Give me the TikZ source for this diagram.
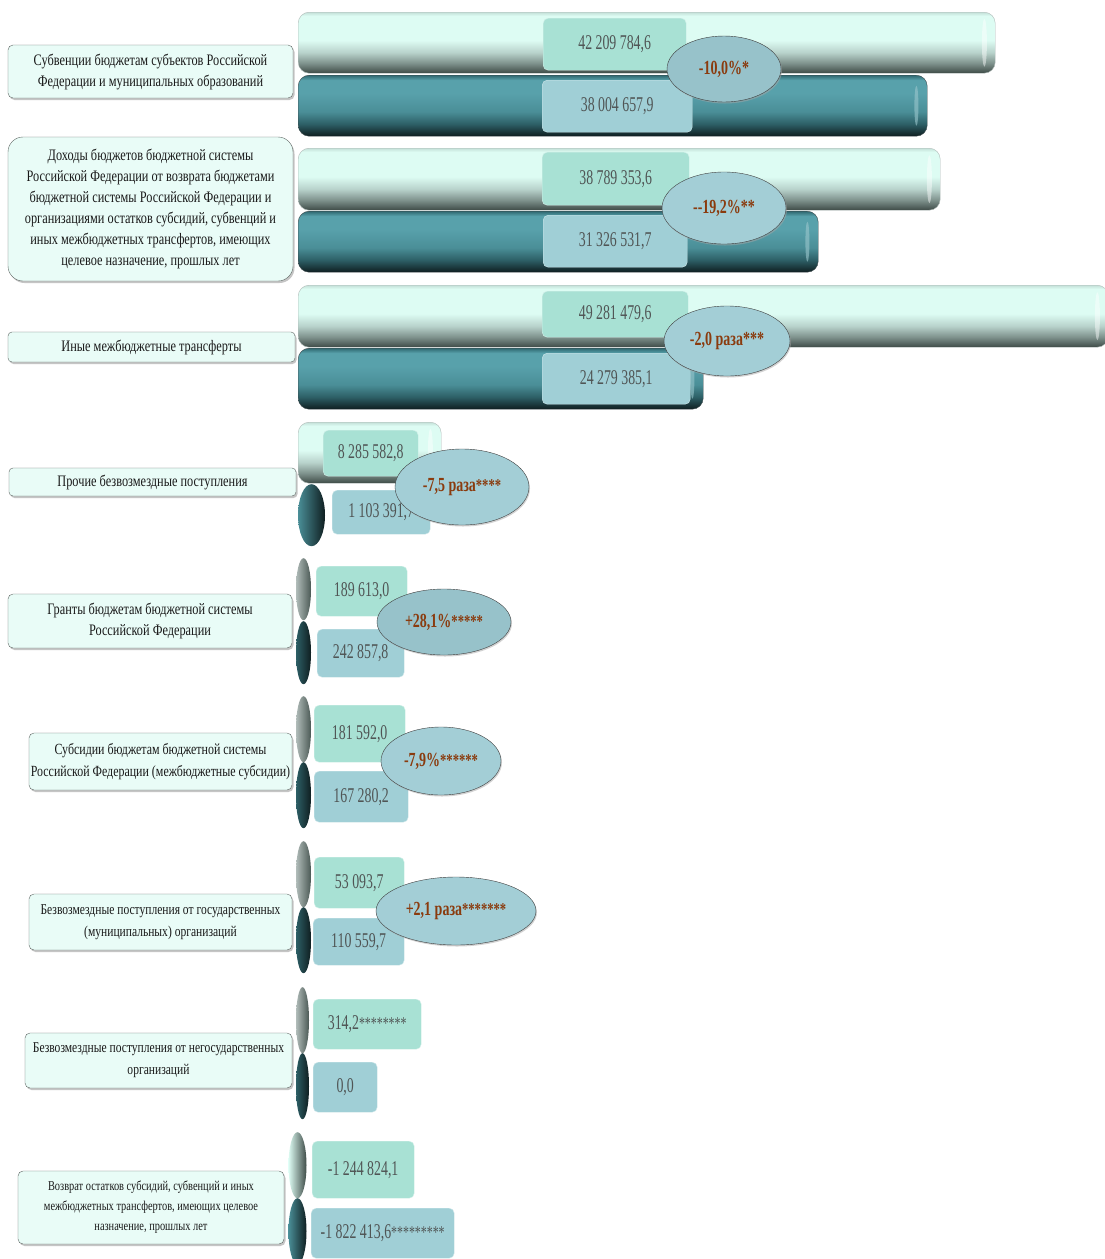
\documentclass[tikz,border=0pt]{standalone}
\usepackage{fontspec}
\setmainfont{Liberation Serif}
\newfontfamily\lblfont{Liberation Serif}[FakeStretch=0.77]
\newfontfamily\valfont{Liberation Serif}[FakeStretch=0.66]
\newfontfamily\chgfont{Liberation Serif}[FakeStretch=0.70]
\usetikzlibrary{shapes.geometric,shadows}
\definecolor{lblfill}{HTML}{E9FCF7}
\definecolor{lbledge}{HTML}{5E6663}
\definecolor{vtopfill}{HTML}{A8E1D4}
\definecolor{vbotfill}{HTML}{A0CFD6}
\definecolor{chgfill}{HTML}{A3CED6}
\definecolor{chgdark}{HTML}{97C2CA}
\definecolor{chgtext}{HTML}{8A3B0E}
\definecolor{valtext}{HTML}{505555}
\definecolor{lb1}{HTML}{3E4B47}
\definecolor{lb2}{HTML}{7D908B}
\definecolor{lb3}{HTML}{B8D2CB}
\definecolor{lb4}{HTML}{DDFCF3}
\definecolor{lb5}{HTML}{C4E0D8}
\definecolor{tb1}{HTML}{0F1E20}
\definecolor{tb2}{HTML}{2D5F66}
\definecolor{tb3}{HTML}{4A8E97}
\definecolor{tb4}{HTML}{58A1AB}
\definecolor{tb5}{HTML}{2F6870}
\pgfdeclareverticalshading{lightbar}{100bp}{color(0bp)=(lb1); color(25bp)=(lb1);
  color(33bp)=(lb2); color(42bp)=(lb3); color(52bp)=(lb4); color(72bp)=(lb4);
  color(75bp)=(lb5); color(100bp)=(lb5)}
\pgfdeclareverticalshading{tealbar}{100bp}{color(0bp)=(tb1); color(25bp)=(tb1);
  color(35bp)=(tb2); color(45bp)=(tb3); color(60bp)=(tb4); color(71bp)=(tb4);
  color(75bp)=(tb5); color(100bp)=(tb5)}
\begin{document}
\begin{tikzpicture}[x=1pt, y=-1pt,
    sz/.style 2 args={minimum width=#1, minimum height=#2},
    lbl/.style={draw=lbledge, fill=lblfill, rounded corners=5pt, align=center,
      inner sep=0pt, text=black!90, font=\lblfont\fontsize{16}{21}\selectfont,
      drop shadow={shadow xshift=1.5pt, shadow yshift=-2pt, fill=black!45}},
    val/.style={rounded corners=5pt, inner sep=0pt, anchor=north west,
      text=valtext, font=\valfont\fontsize{21}{22}\selectfont},
    vtop/.style={val, fill=vtopfill, draw=vtopfill!50!white},
    vbot/.style={val, fill=vbotfill, draw=vbotfill!50!white},
    chg/.style={ellipse, draw=black!75, fill=chgfill, inner sep=0pt, text=chgtext,
      font=\chgfont\bfseries\fontsize{20}{22}\selectfont,
      drop shadow={shadow xshift=1pt, shadow yshift=-1.5pt, fill=black!35}},
    ltbar/.style={shading=lightbar, draw=lb2!60, rounded corners=11pt,
      anchor=north west, inner sep=0pt},
    tlbar/.style={shading=tealbar, draw=tb1!80, rounded corners=11pt,
      anchor=north west, inner sep=0pt},
    ltdot/.style={ellipse, anchor=north, inner sep=0pt, left color=lb2!60,
      right color=lb1!80!lb2},
    tldot/.style={ellipse, anchor=north, inner sep=0pt, left color=tb2,
      right color=tb1}]
  \fill[white] (0,0) rectangle (1105,1259);
  \useasboundingbox (0,0) rectangle (1105,1259);
  % bars
  \node[ltbar, sz={697}{61}] (b1t) at (298,12) {}; \node[tlbar, sz={629}{61}] (b1b) at (298,75) {};
  \node[ltbar, sz={642}{62}] (b2t) at (298,148) {}; \node[tlbar, sz={520}{61}] (b2b) at (298,211) {};
  \node[ltbar, sz={810}{62}] (b3t) at (298,285) {}; \node[tlbar, sz={405}{61}] (b3b) at (298,348) {};
  \node[ltbar, sz={143}{61}] (b4t) at (298,422) {};
  \node[tldot, sz={27}{62}, left color=tb3, middle color=tb4!55!white, right color=tb1] (b4b) at (311.5,484) {};
  \node[ltdot, sz={15}{62}] (b5t) at (303.5,558) {}; \node[tldot, sz={15}{63}] (b5b) at (303.5,621) {};
  \node[ltdot, sz={15}{66}] (b6t) at (303.5,696) {}; \node[tldot, sz={15}{66}] (b6b) at (303.5,762) {};
  \node[ltdot, sz={15}{66}] (b7t) at (303.5,841) {}; \node[tldot, sz={15}{66}] (b7b) at (303.5,907) {};
  \node[ltdot, sz={13}{66}] (b8t) at (302.5,987) {}; \node[tldot, sz={13}{66}] (b8b) at (302.5,1053) {};
  \node[ltdot, sz={18}{66}, left color=lb4, middle color=lb3, right color=lb1] (b9t) at (297.5,1132) {};
  \node[tldot, sz={18}{66}, left color=tb3, middle color=tb2, right color=tb1] (b9b) at (297.5,1198) {};
  \foreach \b in {b1t,b2t,b3t,b4t}
    \fill[white, opacity=.45] ([xshift=-11pt]\b.east) ellipse [x radius=2.5, y radius=24];
  \foreach \b in {b1b,b2b,b3b}
    \fill[tb4!60!white, opacity=.6] ([xshift=-11pt]\b.east) ellipse [x radius=2, y radius=20];
  % labels
  \node[lbl, sz={285}{53}] (l1) at (150.5,71.5) {Субвенции бюджетам субъектов Российской\\Федерации и муниципальных образований};
  \node[lbl, sz={285}{144}, rounded corners=15pt] (l2) at (150.5,209) {Доходы бюджетов бюджетной системы\\Российской Федерации от возврата бюджетами\\бюджетной системы Российской Федерации и\\организациями остатков субсидий, субвенций и\\иных межбюджетных трансфертов, имеющих\\целевое назначение, прошлых лет};
  \node[lbl, sz={287}{30}, rounded corners=4pt] (l3) at (151.5,347) {Иные межбюджетные трансферты};
  \node[lbl, sz={287}{28}, rounded corners=4pt] (l4) at (152.5,482) {Прочие безвозмездные поступления};
  \node[lbl, sz={284}{54}] (l5) at (150,621) {Гранты бюджетам бюджетной системы\\Российской Федерации};
  \node[lbl, sz={263}{57}, font=\lblfont\fontsize{15.5}{22}\selectfont] (l6) at (160.5,761.5) {Субсидии бюджетам бюджетной системы\\Российской Федерации (межбюджетные субсидии)};
  \node[lbl, sz={263}{56}, font=\lblfont\fontsize{15}{22}\selectfont] (l7) at (160.5,922) {Безвозмездные поступления от государственных\\(муниципальных) организаций};
  \node[lbl, sz={267}{55}, font=\lblfont\fontsize{15}{22}\selectfont] (l8) at (158.5,1060.5) {Безвозмездные поступления от негосударственных\\организаций};
  \node[lbl, sz={266}{73}, font=\lblfont\fontsize{13.5}{20}\selectfont] (l9) at (151,1207.5) {Возврат остатков субсидий, субвенций и иных\\межбюджетных трансфертов, имеющих целевое\\назначение, прошлых лет};
  % values
  \node[vtop, sz={143}{52}] (v1t) at (543,18) {42 209 784,6}; \node[vbot, sz={150}{52}] (v1b) at (542,80) {38 004 657,9};
  \node[vtop, sz={147}{53}] (v2t) at (542,152) {38 789 353,6}; \node[vbot, sz={144}{52}] (v2b) at (543,215) {31 326 531,7};
  \node[vtop, sz={146}{46}] (v3t) at (542,291) {49 281 479,6}; \node[vbot, sz={148}{51}] (v3b) at (542,353) {24 279 385,1};
  \node[vtop, sz={95}{46}] (v4t) at (323,430) {8 285 582,8}; \node[vbot, sz={98}{44}] (v4b) at (332,490) {1 103 391,7};
  \node[vtop, sz={91}{50}] (v5t) at (316,566) {189 613,0}; \node[vbot, sz={87}{48}] (v5b) at (317,629) {242 857,8};
  \node[vtop, sz={91}{57}] (v6t) at (314,705) {181 592,0}; \node[vbot, sz={94}{51}] (v6b) at (314,771) {167 280,2};
  \node[vtop, sz={90}{51}] (v7t) at (314,857) {53 093,7}; \node[vbot, sz={91}{47}] (v7b) at (313,918) {110 559,7};
  \node[vtop, sz={108}{50}] (v8t) at (313,999) {314,2{\fontsize{18}{18}\selectfont********}}; \node[vbot, sz={64}{50}] (v8b) at (313,1062) {0,0};
  \node[vtop, sz={102}{57}] (v9t) at (312,1141) {-1 244 824,1}; \node[vbot, sz={143}{50}] (v9b) at (311,1208) {-1 822 413,6{\fontsize{18}{18}\selectfont*********}};
  % changes
  \node[chg, sz={114}{66}, fill=chgdark] (c1) at (724,69) {-10,0\%*};
  \node[chg, sz={124}{72}] (c2) at (724,208) {--19,2\%**};
  \node[chg, sz={126}{70}] (c3) at (727,341) {-2,0 раза***};
  \node[chg, sz={134}{76}] (c4) at (462,487) {-7,5 раза{\fontsize{18}{18}\selectfont****}};
  \node[chg, sz={134}{66}, fill=chgdark] (c5) at (444,622) {+28,1\%{\fontsize{18}{18}\selectfont*****}};
  \node[chg, sz={120}{68}] (c6) at (441,761) {-7,9\%{\fontsize{18}{18}\selectfont******}};
  \node[chg, sz={160}{68}] (c7) at (456,911) {+2,1 раза{\fontsize{18}{18}\selectfont*******}};
\end{tikzpicture}
\end{document}
